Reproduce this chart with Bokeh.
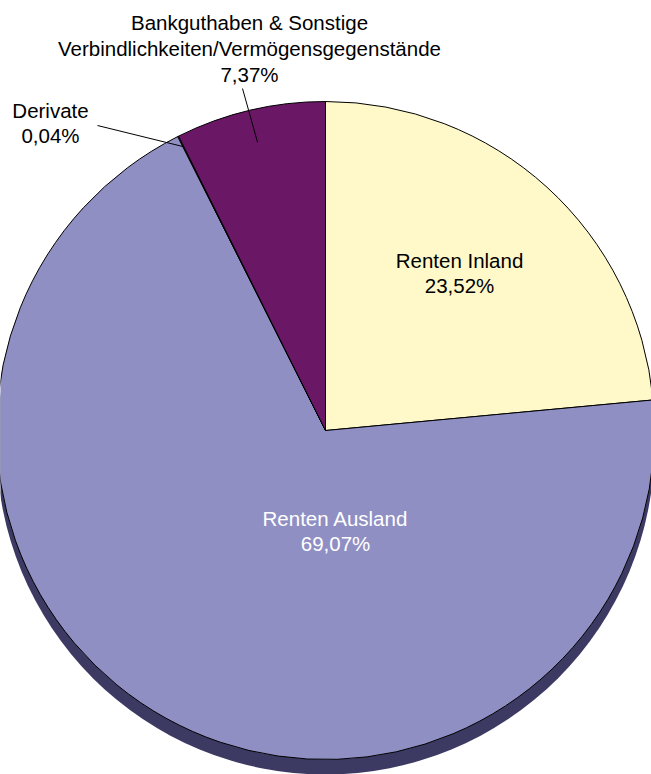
import math
from bokeh.plotting import figure
from bokeh.models import Range1d
from bokeh.core.properties import value
from bokeh.embed import file_html
from bokeh.resources import INLINE

# ---- data ----
categories = ["Renten Inland", "Renten Ausland", "Derivate",
              "Bankguthaben & Sonstige Verbindlichkeiten/Vermögensgegenstände"]
shares = [23.52, 69.07, 0.04, 7.37]
pct_labels = ["23,52%", "69,07%", "0,04%", "7,37%"]
colors = ["#FFF8C9", "#8F8FC4", "#C9C9E4", "#6A1866"]

# ---- layout (page pixel coordinates) ----
W, H = 651, 774
def Y(page_y):
    return H - page_y

CX, CY, R = 325, Y(430), 329
SHADOW = 15
FONT = value("Liberation Sans")
FS = "20.5px"
DY = 8  # text baseline correction

p = figure(width=W, height=H, x_range=Range1d(0, W), y_range=Range1d(0, H),
           output_backend="svg", toolbar_location=None, min_border=0)
p.axis.visible = False
p.grid.visible = False
p.outline_line_color = None
p.background_fill_color = "white"

# shadow / depth
p.circle(x=[CX], y=[CY - SHADOW], radius=R, fill_color="#3C3A63", line_color=None)

# wedges, clockwise from 12 o'clock
total = sum(shares)
starts, ends, mids = [], [], []
cum = 0.0
for s in shares:
    a0 = math.pi / 2 - 2 * math.pi * (cum + s) / total
    a1 = math.pi / 2 - 2 * math.pi * cum / total
    starts.append(a0)
    ends.append(a1)
    mids.append((a0 + a1) / 2)
    cum += s

p.wedge(x=[CX] * 4, y=[CY] * 4, radius=R, start_angle=starts, end_angle=ends,
        fill_color=colors, line_color="black", line_width=1)

# labels
def txt(x, y_page, t, color="black"):
    p.text(x=[x], y=[Y(y_page - DY)], text=[t], text_font=FONT, text_font_size=FS,
           text_align="center", text_baseline="alphabetic", text_color=color)

txt(459, 268, categories[0])
txt(459, 293, pct_labels[0])
txt(335, 526, categories[1], "white")
txt(335, 551, pct_labels[1], "white")

txt(50, 118, categories[2])
txt(50, 143, pct_labels[2])
txt(249, 30, "Bankguthaben & Sonstige")
txt(249, 56, "Verbindlichkeiten/Vermögensgegenstände")
txt(249, 82, pct_labels[3])

# leader lines
a = mids[3]
p.line(x=[242, CX + 0.9 * R * math.cos(a)], y=[Y(88), CY + 0.9 * R * math.sin(a)],
       line_color="black", line_width=1)
a = mids[2]
p.line(x=[97, CX + 0.965 * R * math.cos(a)], y=[Y(125), CY + 0.965 * R * math.sin(a)],
       line_color="black", line_width=1)

open("out.html", "w").write(file_html(p, INLINE))
